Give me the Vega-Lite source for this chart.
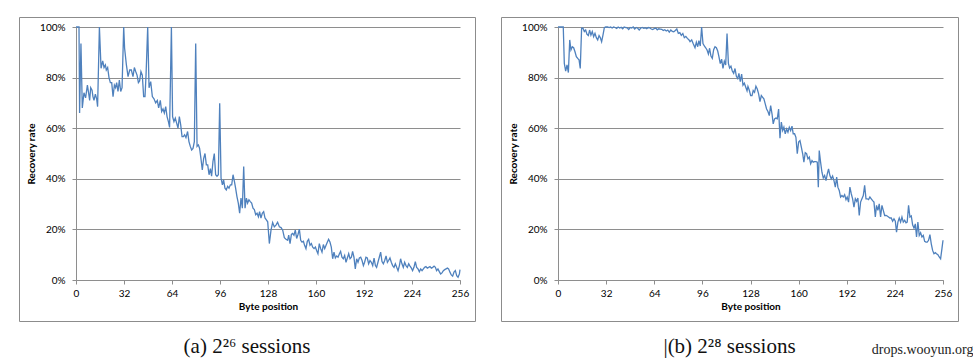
{
  "$schema": "https://vega.github.io/schema/vega-lite/v6.json",
  "padding": {"left": 18, "top": 16, "right": 0, "bottom": 0},
  "background": "white",
  "title": {"text": "drops.wooyun.org", "orient": "bottom", "anchor": "end", "font": "Liberation Serif", "fontSize": 14, "fontWeight": "normal", "color": "#222222", "offset": -15, "dx": 15},
  "config": {
    "view": {"stroke": "#8c8c8c", "strokeWidth": 1},
    "axis": {"labelFont": "Lato", "labelFontSize": 10, "labelColor": "#000000", "titleFont": "Lato", "titleFontSize": 10, "titleFontWeight": "bold", "titleColor": "#000000", "domainColor": "#8e8e8e", "tickColor": "#8e8e8e", "gridColor": "#8e8e8e", "tickSize": 4, "domainWidth": 1, "gridWidth": 1, "gridOpacity": 1}
  },
  "datasets": {
    "a": [
      {"byte":0,"rate":100},{"byte":2,"rate":100},{"byte":2.4,"rate":66},{"byte":3.3,"rate":93.5},{"byte":4.2,"rate":68},{"byte":5.3,"rate":74},{"byte":6.4,"rate":72},{"byte":7.6,"rate":77},{"byte":8.4,"rate":74},{"byte":9.1,"rate":71},{"byte":9.8,"rate":76},{"byte":10.7,"rate":75},{"byte":11.3,"rate":72.5},{"byte":12,"rate":71},{"byte":12.9,"rate":73.5},{"byte":13.8,"rate":71.5},{"byte":14.4,"rate":68.5},{"byte":15.6,"rate":100},{"byte":16.7,"rate":83.7},{"byte":17.8,"rate":86.6},{"byte":18.7,"rate":84},{"byte":19.6,"rate":85},{"byte":20.2,"rate":83},{"byte":21.1,"rate":84},{"byte":22,"rate":80},{"byte":22.9,"rate":78},{"byte":23.8,"rate":78},{"byte":24.7,"rate":72.5},{"byte":25.6,"rate":77},{"byte":26.4,"rate":76},{"byte":27.1,"rate":78},{"byte":28,"rate":74.5},{"byte":28.9,"rate":79},{"byte":29.8,"rate":74.5},{"byte":30.7,"rate":76},{"byte":31.8,"rate":100},{"byte":32.4,"rate":91.6},{"byte":33.6,"rate":85},{"byte":34.7,"rate":80.4},{"byte":35.8,"rate":83},{"byte":36.9,"rate":83},{"byte":38,"rate":80.4},{"byte":38.9,"rate":84},{"byte":39.8,"rate":82.4},{"byte":40.7,"rate":81},{"byte":41.6,"rate":78},{"byte":42.4,"rate":78.7},{"byte":43.3,"rate":82.4},{"byte":44.2,"rate":81},{"byte":45.1,"rate":72.5},{"byte":46,"rate":72.5},{"byte":46.7,"rate":81},{"byte":47.8,"rate":100},{"byte":48.7,"rate":76},{"byte":49.8,"rate":78.4},{"byte":50.9,"rate":72.5},{"byte":52,"rate":71.6},{"byte":53.1,"rate":70},{"byte":54.2,"rate":71},{"byte":55.1,"rate":68},{"byte":56.2,"rate":71},{"byte":57.1,"rate":66.6},{"byte":58,"rate":67.6},{"byte":58.9,"rate":66},{"byte":59.8,"rate":68.5},{"byte":60.7,"rate":64.6},{"byte":61.6,"rate":62.6},{"byte":62.4,"rate":60.3},{"byte":63.6,"rate":100},{"byte":64.4,"rate":64.6},{"byte":65.3,"rate":62.6},{"byte":66.2,"rate":64},{"byte":67.1,"rate":62},{"byte":68,"rate":60},{"byte":68.9,"rate":64.6},{"byte":69.8,"rate":61.3},{"byte":70.7,"rate":56.7},{"byte":71.6,"rate":56.7},{"byte":72.4,"rate":57.4},{"byte":73.3,"rate":56.3},{"byte":74.4,"rate":58.7},{"byte":75.3,"rate":54.7},{"byte":76.2,"rate":52.8},{"byte":77.1,"rate":51.4},{"byte":78,"rate":52},{"byte":78.9,"rate":54.7},{"byte":79.8,"rate":93.5},{"byte":80.7,"rate":52.8},{"byte":81.6,"rate":53.4},{"byte":82.4,"rate":52},{"byte":83.3,"rate":48},{"byte":84.2,"rate":43.5},{"byte":85.1,"rate":48},{"byte":86,"rate":50},{"byte":86.9,"rate":45.5},{"byte":87.8,"rate":45.5},{"byte":88.7,"rate":41.6},{"byte":89.6,"rate":44},{"byte":90.4,"rate":41},{"byte":91.3,"rate":46.8},{"byte":92.2,"rate":50},{"byte":93.1,"rate":41.6},{"byte":94,"rate":41},{"byte":94.9,"rate":41.6},{"byte":95.8,"rate":69.9},{"byte":96.7,"rate":40.3},{"byte":97.6,"rate":37.6},{"byte":98.4,"rate":39.6},{"byte":99.3,"rate":36.3},{"byte":100.2,"rate":35.6},{"byte":101.1,"rate":37},{"byte":102,"rate":36.3},{"byte":102.9,"rate":37.6},{"byte":103.8,"rate":37.6},{"byte":104.7,"rate":41.6},{"byte":105.6,"rate":39},{"byte":106.4,"rate":36.3},{"byte":107.3,"rate":33},{"byte":108.2,"rate":30.4},{"byte":109.1,"rate":26.4},{"byte":110,"rate":32.4},{"byte":110.9,"rate":28.4},{"byte":111.8,"rate":44.9},{"byte":112.7,"rate":28.4},{"byte":113.6,"rate":32.4},{"byte":114.4,"rate":30.4},{"byte":115.3,"rate":31.7},{"byte":116.2,"rate":31},{"byte":117.1,"rate":30.4},{"byte":118,"rate":28.4},{"byte":118.9,"rate":27.8},{"byte":119.8,"rate":25.8},{"byte":120.7,"rate":26.4},{"byte":121.6,"rate":25},{"byte":122.4,"rate":27},{"byte":123.3,"rate":24.5},{"byte":124.2,"rate":26.4},{"byte":125.1,"rate":27},{"byte":126,"rate":24.5},{"byte":126.9,"rate":23.8},{"byte":127.8,"rate":23},{"byte":128.9,"rate":14.4},{"byte":130,"rate":19.7},{"byte":131.1,"rate":22.7},{"byte":132.2,"rate":21},{"byte":133.3,"rate":21.7},{"byte":134.4,"rate":22.8},{"byte":135.6,"rate":21},{"byte":136.7,"rate":20.7},{"byte":137.8,"rate":19.7},{"byte":138.9,"rate":16.7},{"byte":140,"rate":16.1},{"byte":141.1,"rate":15.7},{"byte":141.8,"rate":17.7},{"byte":142.7,"rate":14.4},{"byte":143.6,"rate":18},{"byte":144.4,"rate":18.4},{"byte":145.3,"rate":17.7},{"byte":146.2,"rate":19.7},{"byte":147.1,"rate":16.4},{"byte":148,"rate":18},{"byte":148.9,"rate":20.1},{"byte":149.8,"rate":15.7},{"byte":150.7,"rate":15},{"byte":151.6,"rate":15.3},{"byte":152.4,"rate":13.7},{"byte":153.3,"rate":12.4},{"byte":154.2,"rate":15.3},{"byte":155.1,"rate":16.1},{"byte":156,"rate":13.7},{"byte":156.9,"rate":14.4},{"byte":157.8,"rate":13},{"byte":158.7,"rate":12.4},{"byte":159.6,"rate":13},{"byte":160.4,"rate":11.7},{"byte":161.3,"rate":10.4},{"byte":162.2,"rate":14.4},{"byte":163.1,"rate":12.4},{"byte":164,"rate":11},{"byte":164.9,"rate":14},{"byte":165.8,"rate":12.4},{"byte":166.7,"rate":13.7},{"byte":167.6,"rate":15},{"byte":168.4,"rate":16.1},{"byte":169.3,"rate":15},{"byte":170.2,"rate":13},{"byte":171.1,"rate":8.4},{"byte":172,"rate":11},{"byte":172.9,"rate":8.7},{"byte":173.8,"rate":9.5},{"byte":174.7,"rate":9},{"byte":175.6,"rate":10.4},{"byte":176.4,"rate":11.3},{"byte":177.3,"rate":9},{"byte":178.2,"rate":8.4},{"byte":179.1,"rate":9.7},{"byte":180,"rate":7},{"byte":180.9,"rate":8.7},{"byte":181.8,"rate":10.4},{"byte":182.7,"rate":8.4},{"byte":183.6,"rate":9},{"byte":184.4,"rate":11.3},{"byte":185.3,"rate":9},{"byte":186.2,"rate":4.4},{"byte":187.1,"rate":8.4},{"byte":188,"rate":7},{"byte":188.9,"rate":8.7},{"byte":189.8,"rate":9},{"byte":190.7,"rate":7.7},{"byte":191.6,"rate":5.7},{"byte":192.4,"rate":7},{"byte":193.3,"rate":9},{"byte":194.2,"rate":8.7},{"byte":195.1,"rate":6.4},{"byte":196,"rate":7.7},{"byte":196.9,"rate":7},{"byte":197.8,"rate":5.7},{"byte":198.7,"rate":8.7},{"byte":199.6,"rate":5.7},{"byte":200.4,"rate":5},{"byte":201.3,"rate":7},{"byte":202.2,"rate":9},{"byte":203.1,"rate":11},{"byte":204,"rate":7.3},{"byte":204.9,"rate":6.4},{"byte":205.8,"rate":7.7},{"byte":206.7,"rate":9.5},{"byte":207.6,"rate":7},{"byte":208.4,"rate":7.7},{"byte":209.3,"rate":8.7},{"byte":210.2,"rate":7},{"byte":211.1,"rate":5.7},{"byte":212,"rate":5},{"byte":212.9,"rate":6.4},{"byte":213.8,"rate":5},{"byte":214.7,"rate":3.7},{"byte":215.6,"rate":5.7},{"byte":216.4,"rate":8.4},{"byte":217.3,"rate":6.4},{"byte":218.2,"rate":5},{"byte":219.1,"rate":7},{"byte":220,"rate":5.7},{"byte":220.9,"rate":5},{"byte":221.8,"rate":6.4},{"byte":222.7,"rate":5.5},{"byte":223.6,"rate":4.7},{"byte":224.4,"rate":3.7},{"byte":225.3,"rate":5},{"byte":226.2,"rate":7.3},{"byte":227.1,"rate":5},{"byte":228,"rate":4.4},{"byte":228.9,"rate":3.3},{"byte":229.8,"rate":4.4},{"byte":230.7,"rate":3.7},{"byte":231.6,"rate":4.4},{"byte":232.4,"rate":5},{"byte":233.3,"rate":5.3},{"byte":234.2,"rate":4.7},{"byte":235.1,"rate":5},{"byte":236,"rate":5.3},{"byte":236.9,"rate":4.7},{"byte":237.8,"rate":5},{"byte":238.7,"rate":5.5},{"byte":239.6,"rate":5},{"byte":240.4,"rate":3.7},{"byte":241.3,"rate":4.4},{"byte":242.2,"rate":3.3},{"byte":243.1,"rate":2.4},{"byte":244,"rate":2.8},{"byte":244.9,"rate":3.7},{"byte":245.8,"rate":4.1},{"byte":246.7,"rate":4.4},{"byte":247.6,"rate":4.7},{"byte":248.4,"rate":4.4},{"byte":249.3,"rate":3.1},{"byte":250.2,"rate":2},{"byte":251.1,"rate":1.5},{"byte":252,"rate":3.1},{"byte":252.9,"rate":3.7},{"byte":253.8,"rate":1.7},{"byte":254.7,"rate":1.1},{"byte":255.6,"rate":2.4},{"byte":256,"rate":4.1}
    ],
    "b": [
      {"byte":0,"rate":100},{"byte":1,"rate":100},{"byte":2,"rate":100},{"byte":3.5,"rate":100},{"byte":4.2,"rate":85.6},{"byte":5.1,"rate":82.6},{"byte":6,"rate":85},{"byte":6.9,"rate":82},{"byte":7.8,"rate":94.9},{"byte":8.6,"rate":90.9},{"byte":9.5,"rate":92.2},{"byte":10.4,"rate":91.8},{"byte":11.3,"rate":90.2},{"byte":12.2,"rate":88.3},{"byte":13.1,"rate":87.6},{"byte":14,"rate":87},{"byte":14.8,"rate":83.6},{"byte":15.7,"rate":99.5},{"byte":16.6,"rate":99.5},{"byte":17.5,"rate":98.2},{"byte":18.4,"rate":98.8},{"byte":19.3,"rate":97.1},{"byte":20.2,"rate":96.6},{"byte":21,"rate":98.8},{"byte":21.9,"rate":96.8},{"byte":22.8,"rate":98.2},{"byte":23.7,"rate":96.2},{"byte":24.6,"rate":97.5},{"byte":25.5,"rate":95.8},{"byte":26.4,"rate":94.9},{"byte":27.3,"rate":96.6},{"byte":28.1,"rate":95.8},{"byte":29,"rate":94.2},{"byte":29.9,"rate":96.8},{"byte":30.8,"rate":99.7},{"byte":31.7,"rate":100},{"byte":33,"rate":100},{"byte":34,"rate":99.8},{"byte":35,"rate":100},{"byte":36,"rate":99.6},{"byte":37,"rate":100},{"byte":38,"rate":99.8},{"byte":39,"rate":99.4},{"byte":40,"rate":100},{"byte":41,"rate":99.6},{"byte":42,"rate":99.9},{"byte":43,"rate":99.3},{"byte":44,"rate":100},{"byte":45,"rate":99.8},{"byte":46,"rate":99.7},{"byte":47,"rate":99},{"byte":48,"rate":99.8},{"byte":49,"rate":99.6},{"byte":50,"rate":100},{"byte":51,"rate":99.2},{"byte":52,"rate":99.8},{"byte":53,"rate":99.5},{"byte":54,"rate":98.8},{"byte":55,"rate":99.6},{"byte":56,"rate":99.8},{"byte":57,"rate":99.5},{"byte":58,"rate":99.7},{"byte":59,"rate":99.3},{"byte":60,"rate":99.8},{"byte":61,"rate":99.7},{"byte":62,"rate":99.2},{"byte":63,"rate":99},{"byte":64,"rate":99.4},{"byte":65,"rate":99.6},{"byte":66,"rate":98.9},{"byte":67,"rate":99.3},{"byte":68,"rate":99.2},{"byte":69,"rate":99.1},{"byte":70,"rate":98.6},{"byte":71,"rate":98.9},{"byte":72,"rate":98.4},{"byte":73,"rate":98.8},{"byte":74,"rate":98},{"byte":75,"rate":98.8},{"byte":76,"rate":98.3},{"byte":77,"rate":98.1},{"byte":78,"rate":98.6},{"byte":79,"rate":99.2},{"byte":80,"rate":97.5},{"byte":81,"rate":97.8},{"byte":82,"rate":96.7},{"byte":83,"rate":97.4},{"byte":84,"rate":95.8},{"byte":85,"rate":96.3},{"byte":86,"rate":95.5},{"byte":87,"rate":95},{"byte":87.8,"rate":94.2},{"byte":88.9,"rate":94.9},{"byte":90,"rate":93.3},{"byte":91.1,"rate":91.8},{"byte":92,"rate":94},{"byte":92.9,"rate":92.2},{"byte":93.7,"rate":94.6},{"byte":94.6,"rate":92.5},{"byte":95.5,"rate":100},{"byte":96.4,"rate":93.5},{"byte":97.3,"rate":92.5},{"byte":98.2,"rate":91.8},{"byte":99.1,"rate":90.9},{"byte":100,"rate":89.3},{"byte":100.8,"rate":91.6},{"byte":101.7,"rate":88.5},{"byte":102.6,"rate":87.6},{"byte":103.5,"rate":91},{"byte":104.4,"rate":92.2},{"byte":105.3,"rate":91.8},{"byte":106.2,"rate":90.5},{"byte":107,"rate":88.3},{"byte":107.9,"rate":85.5},{"byte":108.8,"rate":87.3},{"byte":109.7,"rate":83.6},{"byte":110.6,"rate":86.5},{"byte":111.5,"rate":85},{"byte":112.4,"rate":97.4},{"byte":113.3,"rate":85.6},{"byte":114.1,"rate":83.8},{"byte":115,"rate":84.5},{"byte":115.9,"rate":82.6},{"byte":116.8,"rate":81.7},{"byte":117.7,"rate":83.6},{"byte":118.6,"rate":80.5},{"byte":119.5,"rate":79.6},{"byte":120.3,"rate":81.7},{"byte":121.2,"rate":78.4},{"byte":122.1,"rate":81.4},{"byte":123,"rate":77},{"byte":123.9,"rate":77.8},{"byte":124.8,"rate":76.3},{"byte":125.7,"rate":74.8},{"byte":126.3,"rate":76.5},{"byte":127.2,"rate":75},{"byte":128.1,"rate":72.9},{"byte":129,"rate":72.9},{"byte":129.8,"rate":74.9},{"byte":130.7,"rate":74.2},{"byte":131.6,"rate":76.6},{"byte":132.5,"rate":75.5},{"byte":133.4,"rate":73.6},{"byte":134.3,"rate":70.5},{"byte":135.2,"rate":72.9},{"byte":136.1,"rate":72.2},{"byte":136.9,"rate":71.6},{"byte":137.8,"rate":69.6},{"byte":138.7,"rate":67.6},{"byte":139.6,"rate":66.6},{"byte":140.5,"rate":65},{"byte":141.4,"rate":68.9},{"byte":142.3,"rate":65.7},{"byte":143.1,"rate":61.7},{"byte":144,"rate":63.7},{"byte":144.9,"rate":64},{"byte":145.8,"rate":63.7},{"byte":146.7,"rate":67.6},{"byte":147.6,"rate":56},{"byte":148.5,"rate":62.4},{"byte":149.4,"rate":59.1},{"byte":150.2,"rate":60.4},{"byte":151.1,"rate":57.8},{"byte":152,"rate":59.7},{"byte":152.9,"rate":58.4},{"byte":153.8,"rate":60.4},{"byte":154.7,"rate":59.1},{"byte":155.6,"rate":60.8},{"byte":156.4,"rate":57.8},{"byte":157.3,"rate":57.8},{"byte":158.2,"rate":56.4},{"byte":159.1,"rate":49.9},{"byte":160,"rate":54.5},{"byte":160.9,"rate":55.1},{"byte":161.8,"rate":52.5},{"byte":162.7,"rate":49.9},{"byte":163.5,"rate":46.6},{"byte":164.4,"rate":50.3},{"byte":165.3,"rate":49.9},{"byte":166.2,"rate":47.9},{"byte":167.1,"rate":48.6},{"byte":168,"rate":45.9},{"byte":168.9,"rate":47.2},{"byte":169.7,"rate":46.6},{"byte":170.6,"rate":46.8},{"byte":171.5,"rate":46.8},{"byte":172.4,"rate":46.6},{"byte":173.1,"rate":36.7},{"byte":173.7,"rate":51.2},{"byte":174.6,"rate":46.6},{"byte":175.5,"rate":42.6},{"byte":176.4,"rate":40.3},{"byte":177.3,"rate":41.3},{"byte":178.2,"rate":39.3},{"byte":179.1,"rate":42},{"byte":179.9,"rate":43.9},{"byte":180.8,"rate":41.3},{"byte":181.7,"rate":40},{"byte":182.6,"rate":41.1},{"byte":183.5,"rate":39.3},{"byte":184.4,"rate":36.7},{"byte":185.3,"rate":40.7},{"byte":186.1,"rate":36.7},{"byte":187,"rate":35.4},{"byte":187.9,"rate":32.8},{"byte":188.8,"rate":33.4},{"byte":189.7,"rate":32.8},{"byte":190.6,"rate":33.7},{"byte":191.5,"rate":31.8},{"byte":192.3,"rate":32.8},{"byte":193.2,"rate":30.8},{"byte":194.1,"rate":36.7},{"byte":195,"rate":34.1},{"byte":195.9,"rate":32.1},{"byte":196.8,"rate":28.8},{"byte":197.7,"rate":32.1},{"byte":198.6,"rate":31.1},{"byte":199.4,"rate":32.4},{"byte":200.3,"rate":25.5},{"byte":201.2,"rate":30.8},{"byte":202.1,"rate":32.1},{"byte":203,"rate":33.4},{"byte":203.9,"rate":37.4},{"byte":204.8,"rate":32.1},{"byte":205.6,"rate":32.1},{"byte":206.5,"rate":31.8},{"byte":207.4,"rate":32.8},{"byte":208.3,"rate":32.1},{"byte":209.2,"rate":31.4},{"byte":210.1,"rate":30.8},{"byte":211,"rate":24.9},{"byte":211.8,"rate":29.5},{"byte":212.7,"rate":27.5},{"byte":213.6,"rate":30.1},{"byte":214.5,"rate":24.9},{"byte":215.4,"rate":29.5},{"byte":216.3,"rate":27.5},{"byte":217.2,"rate":25.5},{"byte":218.1,"rate":25.5},{"byte":218.9,"rate":25.3},{"byte":219.8,"rate":24.9},{"byte":220.7,"rate":24.5},{"byte":221.6,"rate":24.5},{"byte":222.5,"rate":23.2},{"byte":223.4,"rate":24.2},{"byte":224.3,"rate":23.2},{"byte":225.1,"rate":18.9},{"byte":226,"rate":22.9},{"byte":226.9,"rate":24.5},{"byte":227.8,"rate":22.9},{"byte":228.7,"rate":24.9},{"byte":229.6,"rate":22.9},{"byte":230.5,"rate":23.6},{"byte":231.4,"rate":22.6},{"byte":232.2,"rate":22.9},{"byte":233.1,"rate":29.5},{"byte":234,"rate":24.9},{"byte":234.9,"rate":25.3},{"byte":235.8,"rate":21.8},{"byte":236.7,"rate":20.5},{"byte":237.6,"rate":22.2},{"byte":238.4,"rate":17},{"byte":239.3,"rate":22.9},{"byte":240.2,"rate":17.6},{"byte":241.1,"rate":18.7},{"byte":242,"rate":17},{"byte":242.9,"rate":17.6},{"byte":243.8,"rate":15.3},{"byte":244.7,"rate":15},{"byte":245.5,"rate":15},{"byte":246.4,"rate":15.7},{"byte":247.3,"rate":17.9},{"byte":248.2,"rate":14.3},{"byte":249.1,"rate":11.7},{"byte":250,"rate":10.4},{"byte":250.9,"rate":10.8},{"byte":251.7,"rate":10.4},{"byte":252.6,"rate":10},{"byte":253.5,"rate":9.1},{"byte":254.4,"rate":8.4},{"byte":255.3,"rate":12.4},{"byte":256,"rate":15.7}
    ]
  },
  "spacing": 24,
  "hconcat": [
    {
      "width": 456, "height": 304,
      "data": {"name": "a"},
      "title": {"text": "(a) 2²⁶ sessions", "orient": "bottom", "anchor": "middle", "font": "Liberation Serif", "fontSize": 21, "fontWeight": "normal", "color": "#111111", "offset": 15},
      "mark": {"type": "line", "color": "#4F81BD", "strokeWidth": 1.3},
      "encoding": {
        "x": {"field": "byte", "type": "quantitative", "scale": {"domain": [0, 256], "range": [57, 441], "nice": false, "zero": false},
          "axis": {"orient": "bottom", "offset": -41, "values": [0, 32, 64, 96, 128, 160, 192, 224, 256], "grid": false, "labelPadding": 4, "labelFlush": false, "title": "Byte position", "titlePadding": 3}},
        "y": {"field": "rate", "type": "quantitative", "scale": {"domain": [0, 100], "range": [263, 10], "nice": false},
          "axis": {"orient": "left", "offset": -57, "values": [0, 20, 40, 60, 80, 100], "labelExpr": "datum.value + '%'", "grid": true, "labelPadding": 7, "title": "Recovery rate", "titlePadding": 3}}
      }
    },
    {
      "width": 457, "height": 304,
      "data": {"name": "b"},
      "title": {"text": "|(b) 2²⁸ sessions", "orient": "bottom", "anchor": "middle", "font": "Liberation Serif", "fontSize": 21, "fontWeight": "normal", "color": "#111111", "offset": 15},
      "mark": {"type": "line", "color": "#4F81BD", "strokeWidth": 1.3},
      "encoding": {
        "x": {"field": "byte", "type": "quantitative", "scale": {"domain": [0, 256], "range": [57, 442], "nice": false, "zero": false},
          "axis": {"orient": "bottom", "offset": -41, "values": [0, 32, 64, 96, 128, 160, 192, 224, 256], "grid": false, "labelPadding": 4, "labelFlush": false, "title": "Byte position", "titlePadding": 3}},
        "y": {"field": "rate", "type": "quantitative", "scale": {"domain": [0, 100], "range": [263, 10], "nice": false},
          "axis": {"orient": "left", "offset": -57, "values": [0, 20, 40, 60, 80, 100], "labelExpr": "datum.value + '%'", "grid": true, "labelPadding": 7, "title": "Recovery rate", "titlePadding": 3}}
      }
    }
  ]
}
